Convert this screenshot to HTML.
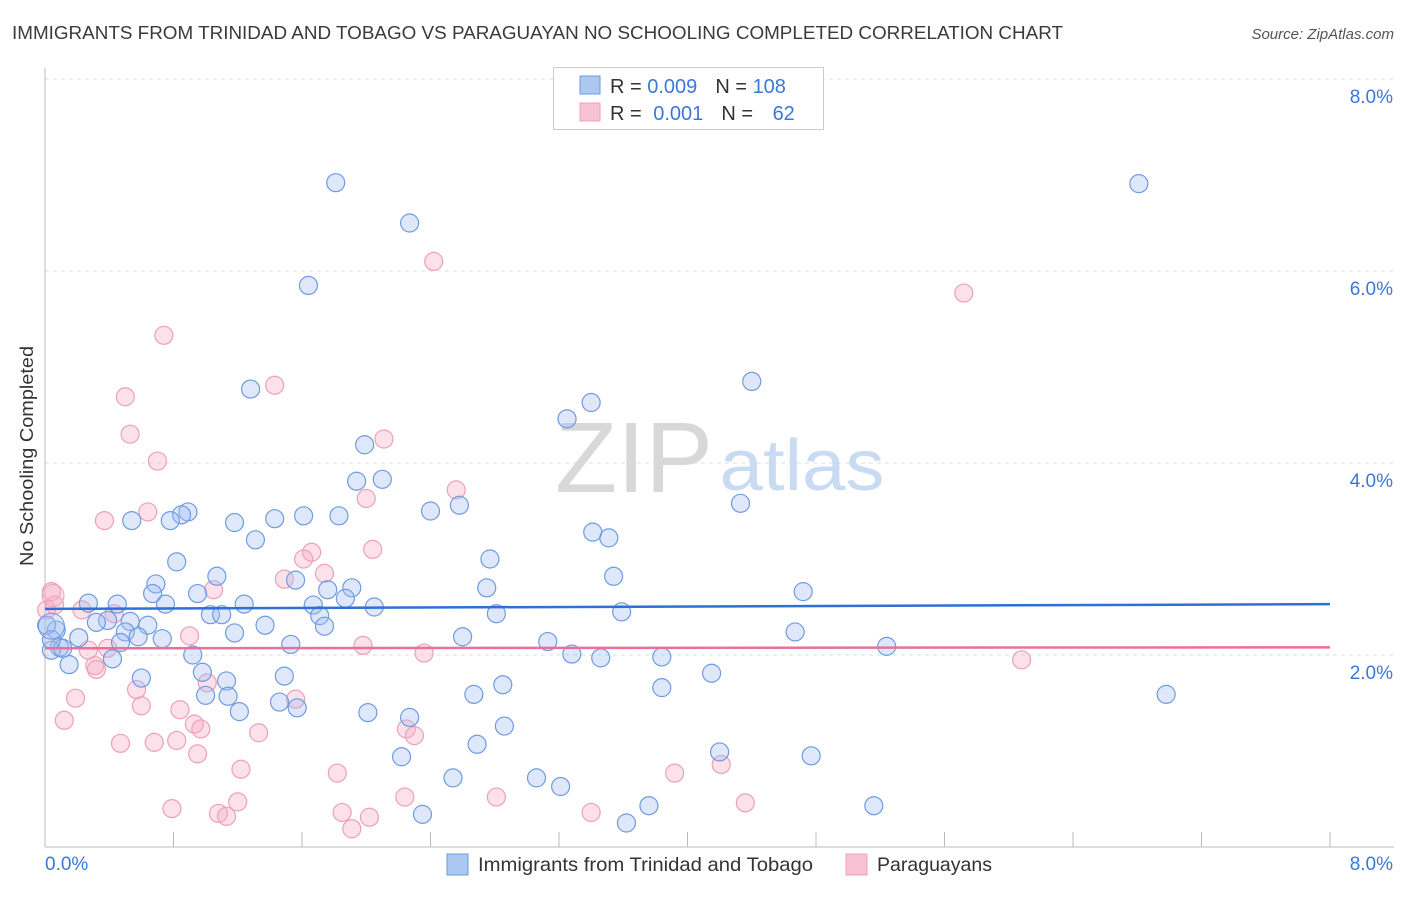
<!DOCTYPE html>
<html><head><meta charset="utf-8"><style>
body{margin:0;background:#fff;font-family:"Liberation Sans",sans-serif;}
svg text{font-family:"Liberation Sans",sans-serif;}
</style></head><body>
<svg id="chart" width="1406" height="892" xmlns="http://www.w3.org/2000/svg">
<text x="12" y="39" font-size="18" textLength="1051" lengthAdjust="spacingAndGlyphs" fill="#3a3a3a">IMMIGRANTS FROM TRINIDAD AND TOBAGO VS PARAGUAYAN NO SCHOOLING COMPLETED CORRELATION CHART</text>
<text x="1394" y="39" font-size="15" fill="#555" font-style="italic" text-anchor="end">Source: ZipAtlas.com</text>
<g id="grid"></g>
<g>
<text x="634" y="492" font-size="100" fill="#d8d8d8" font-family="Liberation Serif" textLength="158" lengthAdjust="spacingAndGlyphs" text-anchor="middle">ZIP</text>
<text x="802" y="490" font-size="72" fill="#c9dbf3" textLength="165" lengthAdjust="spacingAndGlyphs" text-anchor="middle">atlas</text>
</g>
<g id="axes"></g>
<g id="points"></g>
<g id="lines"></g>
<text transform="translate(33,456) rotate(-90)" font-size="18" textLength="220" lengthAdjust="spacingAndGlyphs" fill="#333" text-anchor="middle">No Schooling Completed</text>
<g>
<rect x="553.5" y="67.5" width="270" height="62" fill="#fff" stroke="#ccc"/>
<rect x="580" y="76" width="20" height="18" fill="#aac8f0" stroke="#6f9be0"/>
<rect x="580" y="103" width="20" height="18" fill="#f7c3d3" stroke="#eda0bb"/>
<text x="610" y="93" font-size="20" fill="#333">R = <tspan fill="#3a78d8">0.009</tspan><tspan dx="18">N = </tspan><tspan fill="#3a78d8">108</tspan></text>
<text x="610" y="120" font-size="20" fill="#333">R = <tspan dx="6" fill="#3a78d8">0.001</tspan><tspan dx="18">N = </tspan><tspan dx="14" fill="#3a78d8">62</tspan></text>
</g>
<g>
<rect x="447" y="854" width="21" height="21" fill="#aac8f0" stroke="#6f9be0"/>
<text x="478" y="871" font-size="19.5" textLength="335" lengthAdjust="spacingAndGlyphs" fill="#333">Immigrants from Trinidad and Tobago</text>
<rect x="846" y="854" width="21" height="21" fill="#f7c3d3" stroke="#eda0bb"/>
<text x="877" y="871" font-size="19.5" textLength="115" lengthAdjust="spacingAndGlyphs" fill="#333">Paraguayans</text>
</g>
</svg>
<script>
const yTicks=[2,4,6,8];
const xTickCount=[0,0.8,1.6,2.4,3.2,4.0,4.8,5.6,6.4,7.2,8.0];
const blueX=[1.81,6.81,2.27,1.64,1.28,4.40,3.40,3.25,1.99,1.94,2.10,0.89,0.85,0.78,0.54,1.18,1.43,1.61,1.83,2.40,2.58,4.33,1.31,3.41,3.51,0.82,2.77,1.07,1.56,3.54,0.69,0.67,0.95,2.75,1.76,1.91,1.87,4.72,0.27,0.45,0.75,1.24,1.67,2.05,3.59,1.03,1.10,1.71,2.81,0.39,0.53,0.32,0.64,1.37,1.74,0.07,0.50,1.18,4.67,0.58,0.21,0.73,0.47,1.53,2.60,3.13,0.09,5.24,0.92,3.28,3.46,3.84,0.42,0.15,0.98,0.60,1.13,1.49,1.14,1.00,2.85,2.67,3.84,4.15,6.98,1.46,1.57,1.21,2.01,2.27,2.86,2.69,4.20,2.22,4.77,2.54,3.06,3.21,3.76,5.16,2.35,3.62,0.04,0.11,0.01,0.04];
const blueY=[6.92,6.91,6.50,5.85,4.77,4.85,4.63,4.46,4.19,3.81,3.83,3.49,3.46,3.40,3.40,3.38,3.42,3.45,3.45,3.50,3.56,3.58,3.20,3.28,3.22,2.97,3.00,2.82,2.78,2.82,2.74,2.64,2.64,2.70,2.68,2.70,2.59,2.66,2.54,2.53,2.53,2.53,2.52,2.50,2.45,2.42,2.42,2.41,2.43,2.36,2.35,2.34,2.31,2.31,2.30,2.26,2.24,2.23,2.24,2.19,2.18,2.17,2.13,2.11,2.19,2.14,2.08,2.09,2.00,2.01,1.97,1.98,1.96,1.90,1.82,1.76,1.73,1.78,1.57,1.58,1.69,1.59,1.66,1.81,1.59,1.51,1.45,1.41,1.40,1.35,1.26,1.07,0.99,0.94,0.95,0.72,0.72,0.63,0.43,0.43,0.34,0.25,2.05,2.07,2.31,2.16];
const pinkX=[2.42,5.72,0.74,1.43,0.50,0.53,2.11,0.70,2.56,2.00,0.64,0.37,2.04,1.66,1.61,1.49,1.74,1.05,0.23,0.43,0.04,0.90,1.98,2.36,6.08,0.39,0.27,0.31,0.32,1.01,0.57,1.56,0.19,0.60,0.84,0.93,0.97,0.12,1.33,2.25,2.30,0.47,0.68,0.82,0.95,1.22,1.82,4.21,3.92,2.24,2.81,4.36,0.79,1.20,1.85,2.02,1.08,1.13,3.40,1.91,0.01,0.06];
const pinkY=[6.10,5.77,5.33,4.81,4.69,4.30,4.25,4.02,3.72,3.63,3.49,3.40,3.10,3.07,3.00,2.79,2.85,2.68,2.47,2.43,2.66,2.20,2.10,2.02,1.95,2.07,2.05,1.89,1.85,1.71,1.64,1.54,1.55,1.47,1.43,1.28,1.23,1.32,1.19,1.23,1.16,1.08,1.09,1.11,0.97,0.81,0.77,0.86,0.77,0.52,0.52,0.46,0.40,0.47,0.36,0.31,0.35,0.32,0.36,0.19,2.47,2.52];
const blueTrend=[2.48,2.53];
const pinkTrend=[2.07,2.08];
const NS="http://www.w3.org/2000/svg";
const X0=45,X1=1330,Y0=847,Y8=79;
function sx(v){return X0+(v/8)*(X1-X0);}
function sy(v){return Y0-(v/8)*(Y0-Y8);}
function mk(t,a,p){const e=document.createElementNS(NS,t);for(const k in a)e.setAttribute(k,a[k]);p.appendChild(e);return e;}
const grid=document.getElementById('grid'),axes=document.getElementById('axes'),pts=document.getElementById('points'),lines=document.getElementById('lines');
yTicks.forEach(v=>{
 const l=mk('line',{x1:X0,x2:1394,y1:sy(v),y2:sy(v),stroke:'#dcdcdc','stroke-dasharray':'4,4'},grid);
 
 
 const t=mk('text',{x:1393,y:sy(v)+24,'font-size':19,fill:'#3a78d8','text-anchor':'end'},axes);
 t.textContent=v.toFixed(1)+'%';
 
 
});
const ax=mk('line',{x1:X0,x2:X0,y1:68,y2:Y0,stroke:'#bbb'},axes);


const bx=mk('line',{x1:X0,x2:1394,y1:Y0,y2:Y0,stroke:'#bbb'},axes);


xTickCount.forEach(v=>{
 const t=mk('line',{x1:sx(v),x2:sx(v),y1:832,y2:Y0,stroke:'#bbb'},axes);
 
 
});
const xl=mk('text',{x:45,y:870,'font-size':19,fill:'#3a78d8'},axes);xl.textContent='0.0%';


const xr=mk('text',{x:1393,y:870,'font-size':19,fill:'#3a78d8','text-anchor':'end'},axes);xr.textContent='8.0%';


function drawPts(xs,ys,fill,stroke,name){
 xs.forEach((x,i)=>{
  const c=mk('circle',{cx:sx(x),cy:sy(ys[i]),r:9,fill:fill,stroke:stroke,'stroke-width':1.2},pts);
  
  
 });
}
drawPts(pinkX,pinkY,'rgba(245,170,195,0.35)','#eda0bb','paraguayan-point');
drawPts(blueX,blueY,'rgba(160,190,240,0.35)','#6f9be0','immigrant-point');
const big1=mk('circle',{cx:sx(0.04),cy:sy(2.3),r:13,fill:'rgba(160,190,240,0.35)',stroke:'#6f9be0'},pts);


const big2=mk('circle',{cx:sx(0.05),cy:sy(2.62),r:11,fill:'rgba(245,170,195,0.35)',stroke:'#eda0bb'},pts);


const tb=mk('line',{x1:sx(0),x2:sx(8),y1:sy(blueTrend[0]),y2:sy(blueTrend[1]),stroke:'#2f6fd6','stroke-width':2.5},lines);


const tp=mk('line',{x1:sx(0),x2:sx(8),y1:sy(pinkTrend[0]),y2:sy(pinkTrend[1]),stroke:'#e8719a','stroke-width':2.5},lines);


</script>
</body></html>
